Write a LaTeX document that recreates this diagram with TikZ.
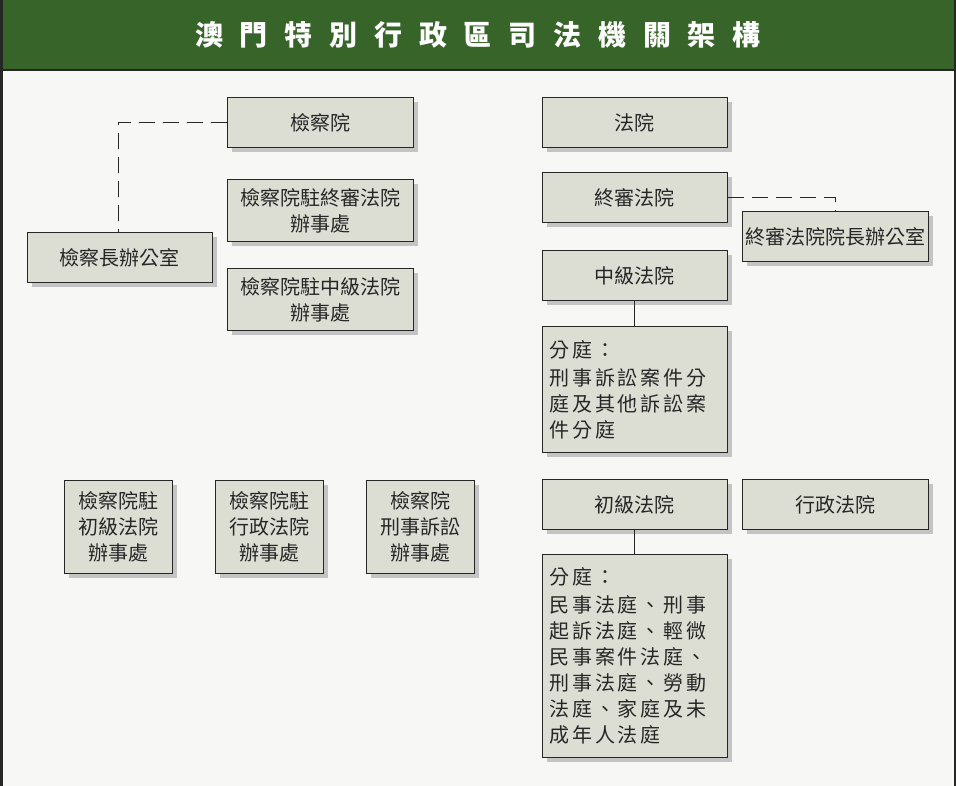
\documentclass[tikz,border=0pt]{standalone}
\usepackage{fontspec}
\setmainfont{Noto Sans CJK TC}
\newfontfamily\cjkls[LetterSpace=14]{Noto Sans CJK TC}
\newfontfamily\cjkt[LetterSpace=60]{Noto Sans CJK TC}
\begin{document}
\begin{tikzpicture}[x=1pt,y=-1pt,
  bx/.style={draw=black!85,line width=0.9pt,fill=boxc,inner sep=0pt,
    font=\fontsize{20}{26}\selectfont,text=black!85,
    postaction={}},
  dl/.style={draw=black!85,line width=1pt,dash pattern=on 16pt off 8pt},
  sl/.style={draw=black!85,line width=1pt}]
\definecolor{boxc}{HTML}{DCDED4}
\definecolor{bgc}{HTML}{F7F7F5}
\definecolor{grn}{HTML}{376529}
\definecolor{shd}{HTML}{C4C4C4}
\useasboundingbox (0,0) rectangle (956,786);
\fill[bgc] (0,0) rectangle (956,786);
\fill[grn] (0,0) rectangle (956,70);
\draw[black!85,line width=2.5pt] (1.25,0) -- (1.25,786);
\draw[black!85,line width=2.5pt] (954.75,0) -- (954.75,786);
\draw[black!85,line width=2.5pt] (0,70) -- (956,70);
\node[text=white,font=\cjkt\bfseries\fontsize{28}{30}\selectfont] (title) at (478,35) {澳門特別行政區司法機關架構};
\newcommand\bxx[6]{%
  \fill[shd] (#2+5,#3+5) rectangle (#4+5,#5+5);
  \node[bx,minimum width=#4-#2,minimum height=#5-#3,anchor=north west,align=center] (#1) at (#2,#3) {#6};}
\bxx{jcy}{227}{97}{413}{147}{檢察院}
\bxx{jzz}{227}{179}{413}{241}{檢察院駐終審法院\\辦事處}
\bxx{jcz}{27}{232}{212}{282}{檢察長辦公室}
\bxx{jzj}{227}{268}{413}{330}{檢察院駐中級法院\\辦事處}
\bxx{fy}{542}{97}{727}{147}{法院}
\bxx{zsf}{542}{172}{727}{222}{終審法院}
\bxx{zsz}{742}{211}{928}{261}{終審法院院長辦公室}
\bxx{zjf}{542}{250}{727}{300}{中級法院}
\bxx{cjf}{542}{479}{727}{529}{初級法院}
\bxx{xzf}{742}{479}{928}{529}{行政法院}
\bxx{jc1}{64}{480}{172}{573}{檢察院駐\\初級法院\\辦事處}
\bxx{jc2}{215}{480}{323}{573}{檢察院駐\\行政法院\\辦事處}
\bxx{jc3}{366}{480}{474}{573}{檢察院\\刑事訴訟\\辦事處}
\fill[shd] (547,331) rectangle (732,457);
\node[bx,minimum width=185,minimum height=126,anchor=north west,align=left,text width=171,inner xsep=7pt,inner ysep=0pt,font=\cjkls\fontsize{20}{26}\selectfont] (ft1) at (542,326) {分庭：\\[2pt]刑事訴訟案件分\\庭及其他訴訟案\\件分庭};
\fill[shd] (547,559) rectangle (732,762);
\node[bx,minimum width=185,minimum height=203,anchor=north west,align=left,text width=171,inner xsep=7pt,inner ysep=0pt,font=\cjkls\fontsize{20}{26}\selectfont] (ft2) at (542,554) {分庭：\\[2pt]民事法庭、刑事\\起訴法庭、輕微\\民事案件法庭、\\刑事法庭、勞動\\法庭、家庭及未\\成年人法庭};
\draw[dl] (jcy.west) -| (jcz.north -| 118,0);
\draw[dl] (zsf.east) -| (zsz.north -| 835,0);
\draw[sl] (zjf.south) -- (ft1.north);
\draw[sl] (cjf.south) -- (ft2.north);
\end{tikzpicture}
\end{document}
